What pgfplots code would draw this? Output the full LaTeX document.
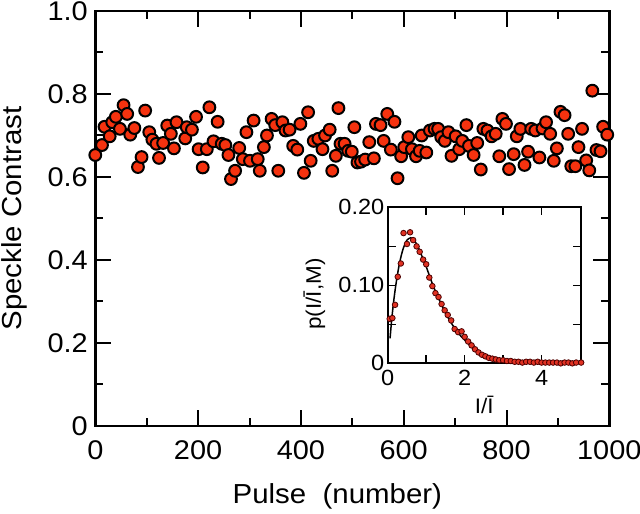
\documentclass[border=0pt]{standalone}
\usepackage{fontspec}
\setmainfont[FakeStretch=1.07]{Liberation Sans}
\usepackage{pgfplots}
\pgfplotsset{compat=1.18}
\definecolor{ptred}{RGB}{245,50,15}
\definecolor{inred}{RGB}{225,50,35}
\begin{document}
\begin{tikzpicture}
\begin{axis}[
 name=main,
 width=514pt, height=415pt, scale only axis,
 xmin=0,xmax=1000,ymin=0,ymax=1,
 clip=false,
 xtick={0,200,400,600,800,1000},
 xticklabels={0,200,400,600,800,1000},
 minor xtick={100,300,500,700,900},
 ytick={0,0.2,0.4,0.6,0.8,1.0},
 yticklabels={0,0.2,0.4,0.6,0.8,1.0},
 minor ytick={0.1,0.3,0.5,0.7,0.9},
 tick align=inside,
 major tick length=16pt, minor tick length=8pt,
 tick style={black, line width=2pt},
 axis line style={line width=2.5pt},
 /pgf/number format/assume math mode=true,
 ticklabel style={font=\fontsize{27}{32}\selectfont},
 xticklabel style={yshift=-11pt},
 yticklabel style={xshift=-4pt},
 xlabel={Pulse\ \ (number)},
 ylabel={Speckle Contrast},
 label style={font=\fontsize{27.5}{32}\selectfont},
 xlabel style={at={(axis description cs:0.471,-0.169)}, anchor=center},
 ylabel style={at={(axis description cs:-0.157,0.5)}, anchor=center},
]
\addplot[only marks, mark=*, mark size=5.9pt, mark options={fill=ptred, draw=black, line width=2pt}] table {
x y
0 0.653
13 0.677
18 0.721
28 0.698
33 0.732
40 0.745
48 0.716
55 0.773
62 0.752
68 0.702
76 0.718
83 0.624
90 0.648
97 0.760
105 0.708
111 0.690
119 0.680
124 0.646
132 0.682
140 0.724
147 0.704
153 0.669
158 0.732
175 0.693
178 0.720
188 0.714
196 0.745
201 0.667
209 0.623
217 0.667
222 0.768
230 0.686
238 0.733
246 0.680
253 0.677
259 0.653
264 0.595
272 0.615
280 0.670
287 0.643
294 0.708
301 0.639
308 0.736
316 0.643
320 0.615
328 0.672
334 0.700
343 0.740
350 0.725
356 0.615
364 0.732
370 0.712
378 0.714
385 0.675
393 0.666
399 0.728
406 0.610
414 0.756
419 0.639
425 0.687
434 0.692
442 0.667
447 0.700
456 0.714
461 0.615
468 0.651
473 0.766
477 0.680
485 0.680
492 0.663
499 0.661
504 0.720
510 0.635
517 0.637
525 0.642
533 0.684
542 0.645
546 0.728
555 0.725
561 0.687
568 0.752
575 0.666
582 0.733
588 0.597
595 0.650
601 0.672
609 0.696
616 0.667
624 0.650
631 0.663
635 0.700
644 0.659
651 0.712
660 0.716
667 0.716
673 0.696
680 0.687
687 0.708
693 0.651
701 0.698
708 0.667
714 0.687
722 0.725
727 0.675
736 0.653
743 0.682
750 0.618
755 0.716
763 0.712
771 0.698
779 0.704
786 0.650
792 0.740
799 0.728
805 0.619
814 0.655
820 0.698
827 0.716
835 0.629
842 0.661
848 0.716
856 0.712
864 0.647
870 0.717
877 0.732
885 0.704
892 0.639
898 0.669
905 0.757
913 0.749
920 0.704
926 0.626
934 0.626
940 0.672
947 0.716
955 0.640
961 0.616
967 0.808
975 0.665
983 0.662
988 0.721
996 0.702
};
\coordinate (insetpos) at (rel axis cs:0.569,0.151);
\end{axis}
\begin{axis}[
 at={(insetpos)}, anchor=south west,
 width=193pt, height=156pt, scale only axis,
 xmin=0, xmax=5.02, ymin=0, ymax=0.2,
 clip=false,
 xtick={0,2,4}, xticklabels={0,2,4}, minor xtick={1,3},
 ytick={0,0.1,0.2}, yticklabels={0,0.10,0.20}, minor ytick={0.05,0.15},
 tick align=inside,
 major tick length=8pt, minor tick length=8pt,
 tick style={black, line width=1.6pt},
 axis line style={line width=2pt},
 axis background/.style={fill=white},
 /pgf/number format/assume math mode=true,
 ticklabel style={font=\fontsize{22}{26}\selectfont},
 xticklabel style={yshift=-3pt},
 yticklabel style={xshift=0pt},
 xlabel={I/\=I}, ylabel={p(I/\=I,M)},
 label style={font=\fontsize{21}{25}\selectfont},
 xlabel style={at={(axis description cs:0.5,-0.264)}, anchor=center},
 ylabel style={at={(axis description cs:-0.38,0.444)}, anchor=center},
]
\addplot[only marks, mark=*, mark size=2.8pt, mark options={fill=inred, draw=black!70!red, line width=0.8pt}] table {
x y
0.05 0.057
0.12 0.058
0.19 0.075
0.26 0.111
0.34 0.128
0.41 0.167
0.50 0.153
0.58 0.168
0.66 0.158
0.75 0.150
0.83 0.143
0.92 0.133
1.00 0.127
1.08 0.110
1.16 0.099
1.24 0.090
1.32 0.085
1.40 0.076
1.48 0.068
1.56 0.062
1.65 0.055
1.74 0.044
1.83 0.040
1.92 0.041
2.00 0.034
2.09 0.028
2.18 0.023
2.27 0.018
2.36 0.014
2.45 0.011
2.54 0.009
2.63 0.007
2.72 0.006
2.81 0.005
2.90 0.004
3.00 0.004
3.10 0.003
3.20 0.003
3.30 0.002
3.40 0.002
3.50 0.001
3.60 0.002
3.70 0.002
3.80 0.001
3.90 0.002
4.00 0.001
4.10 0.001
4.20 0.001
4.30 0.001
4.40 0.001
4.50 0.000
4.60 0.001
4.70 0.001
4.80 0.000
4.90 0.001
5.03 0.001
};
\addplot[black, line width=1.5pt, smooth] table {
x y
0.06 0.032
0.10 0.055
0.15 0.078
0.20 0.097
0.25 0.113
0.30 0.127
0.35 0.138
0.40 0.147
0.45 0.153
0.50 0.158
0.60 0.161
0.70 0.157
0.80 0.148
0.90 0.136
1.00 0.124
1.10 0.110
1.20 0.097
1.30 0.086
1.40 0.075
1.50 0.065
1.60 0.056
1.70 0.048
1.80 0.041
1.90 0.035
2.00 0.030
2.10 0.025
2.20 0.021
2.30 0.017
2.40 0.013
2.50 0.010
2.60 0.008
2.80 0.005
3.00 0.003
3.30 0.0015
3.60 0.0007
4.00 0.0002
4.50 0.0
5.00 0.0
};
\end{axis}
\pgfresetboundingbox
\path[use as bounding box] (-95.3pt,-88pt) rectangle (544.7pt,426pt);
\end{tikzpicture}
\end{document}
